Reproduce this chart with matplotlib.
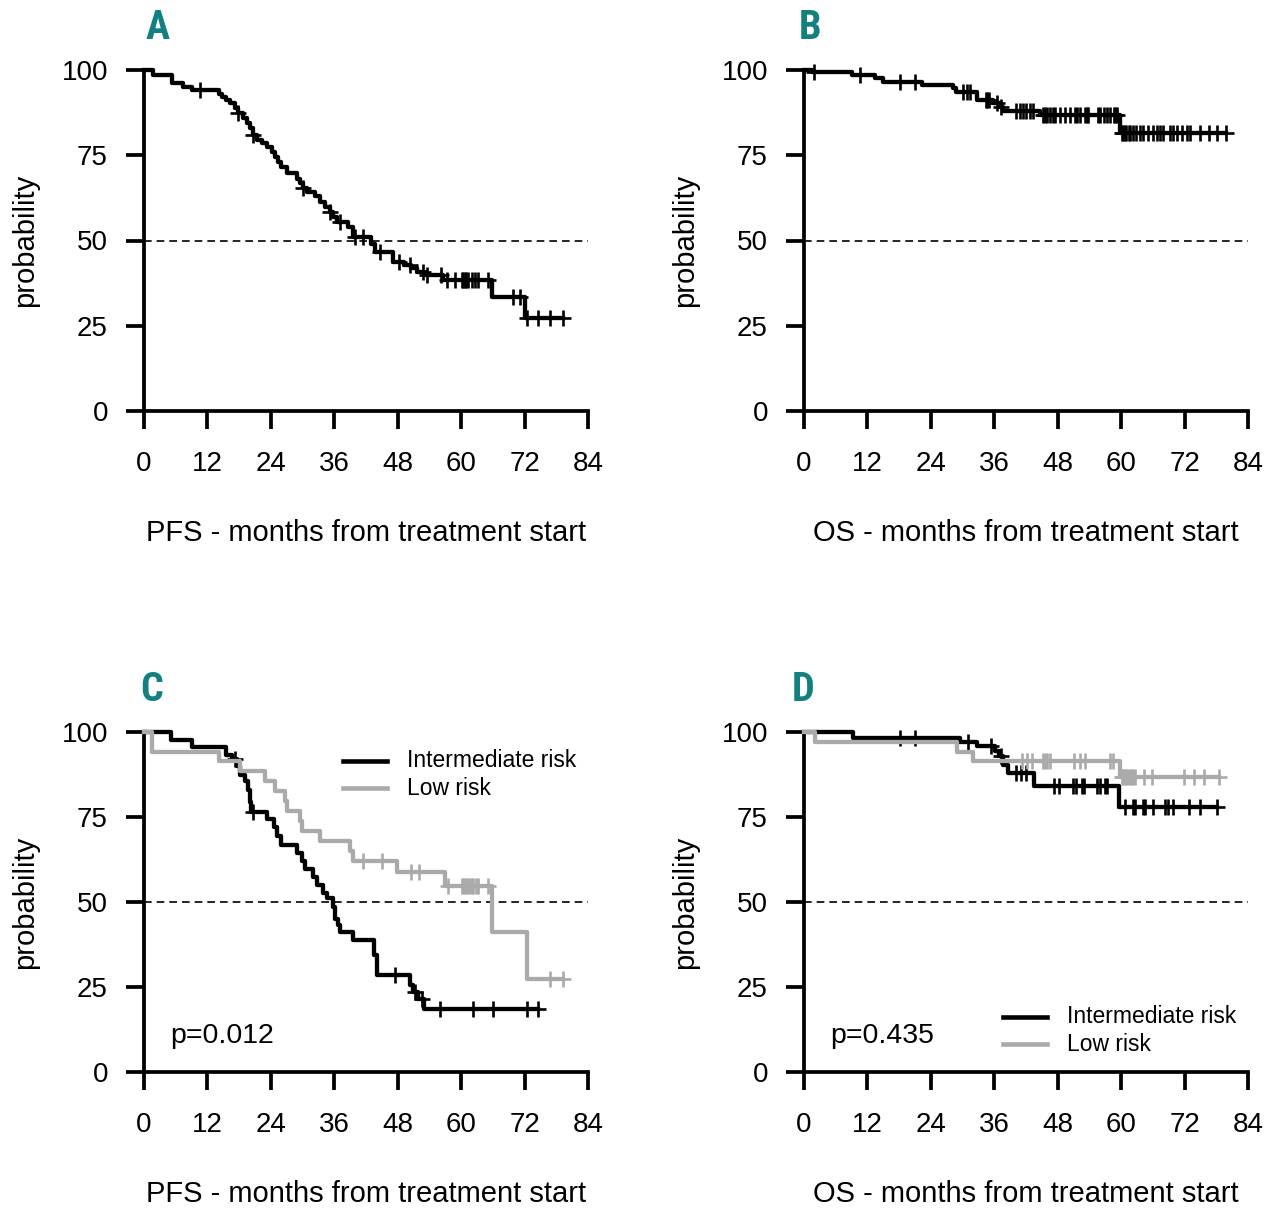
import numpy as np
import matplotlib
matplotlib.use("Agg")
import matplotlib.pyplot as plt
from matplotlib import font_manager

# ---------------- data (months, survival %) ----------------
xticks = [0, 12, 24, 36, 48, 60, 72, 84]
yticks = [0, 25, 50, 75, 100]

# Panel A: PFS all patients
A_event_t = [1.7, 5.3, 7.4, 9.1, 14.1, 14.7, 15.6, 16.3, 17.2, 17.8, 18.8, 19.4, 20.1, 20.7,
             21.3, 22.3, 23.2, 24.2, 24.8, 25.4, 26.0, 27.0, 28.9, 29.5, 30.1, 30.8, 32.4,
             33.3, 34.2, 35.2, 35.8, 36.5, 38.6, 39.6, 43.0, 43.7, 47.2, 49.1, 50.6, 51.6,
             53.2, 56.6, 65.8, 72.1]
A_event_s = [98.5, 96.3, 95.0, 94.0, 93.0, 92.2, 91.2, 90.2, 88.8, 87.4, 86.0, 84.6, 83.0, 81.0,
             79.5, 78.5, 77.5, 76.0, 74.6, 73.1, 71.6, 69.7, 68.0, 66.8, 65.3, 64.3, 63.0,
             61.4, 59.9, 58.4, 57.0, 55.5, 54.0, 51.1, 49.0, 46.7, 43.8, 42.8, 41.8, 40.9,
             39.9, 38.4, 33.5, 27.2]
A_cens_t = [10.6, 17.8, 20.7, 30.1, 35.2, 37.1, 39.9, 41.4, 44.7, 48.3, 50.4, 52.7, 53.6, 56.1,
            57.3, 58.8, 60.1, 60.4, 60.8, 61.0, 61.3, 62.0, 62.6, 63.2, 65.1, 69.9, 71.2,
            72.4, 74.6, 76.8, 79.3]

# Panel B: OS all patients
B_event_t = [1.6, 9.0, 13.4, 15.0, 22.3, 28.2, 28.8, 32.7, 35.8, 37.1, 37.7, 44.6, 59.8]
B_event_s = [99.4, 98.5, 97.6, 96.6, 95.6, 94.6, 93.6, 91.2, 90.2, 89.2, 88.1, 86.8, 81.4]
B_cens_t = [1.9, 10.6, 18.2, 21.0, 30.1, 30.8, 31.4, 34.4, 34.7, 35.0, 36.5, 37.3, 40.2, 40.8,
            41.4, 42.0, 42.7, 43.3, 45.3, 45.6, 45.9, 46.5, 47.2, 47.5, 48.4, 49.4, 50.3, 51.3,
            51.6, 52.2, 53.2, 53.5, 53.8, 55.7, 56.0, 56.7, 57.3, 57.9, 58.6, 58.9, 59.2, 60.1,
            60.4, 60.7, 61.0, 61.4, 61.7, 62.3, 62.9, 63.6, 64.2, 65.1, 66.1, 66.7, 67.4, 68.0,
            69.3, 69.9, 70.5, 71.5, 72.4, 73.1, 75.0, 76.6, 78.2, 79.8]

# Panel C: PFS by risk group
C_int_event_t = [5.2, 9.0, 15.6, 16.6, 17.5, 18.2, 19.1, 19.7, 20.0, 20.3, 23.2, 24.5, 25.1, 26.0,
                 28.9, 29.8, 30.5, 32.0, 32.7, 33.9, 34.6, 35.8, 36.1, 36.7, 37.1, 39.6, 43.6,
                 44.0, 50.3, 50.9, 51.9, 53.0]
C_int_event_s = [97.6, 95.5, 93.3, 92.0, 90.0, 87.5, 85.5, 83.0, 79.5, 76.5, 74.3, 72.0, 69.5, 66.8,
                 64.5, 62.2, 59.6, 57.3, 55.0, 52.6, 51.3, 48.6, 45.1, 43.1, 41.2, 38.7, 34.3,
                 28.4, 25.5, 23.5, 21.6, 18.6]
C_int_cens_t = [17.3, 20.6, 47.4, 51.2, 52.5, 56.0, 62.3, 66.1, 72.4, 74.6]

C_low_event_t = [1.5, 14.1, 18.2, 22.9, 24.8, 26.7, 27.0, 29.5, 29.8, 33.3, 39.0, 39.6, 47.8,
                 56.9, 65.8, 72.4]
C_low_event_s = [94.0, 91.6, 88.6, 85.6, 82.7, 79.8, 76.8, 73.9, 70.9, 68.0, 65.0, 62.1, 58.7,
                 54.8, 41.2, 27.5]
C_low_cens_t = [41.5, 45.0, 50.5, 52.1, 57.5, 60.1, 60.4, 60.8, 61.0, 61.3, 61.6, 62.0, 62.3,
                62.9, 63.2, 65.1, 76.8, 79.3]

# Panel D: OS by risk group
D_int_event_t = [9.3, 29.5, 32.7, 36.1, 36.9, 37.7, 38.6, 43.6, 59.5]
D_int_event_s = [98.2, 97.1, 95.9, 94.4, 93.0, 90.2, 87.8, 84.0, 78.0]
D_int_cens_t = [18.2, 21.0, 31.1, 35.4, 37.2, 40.2, 41.1, 42.0, 47.3, 48.2, 50.8, 51.4, 52.6, 52.9,
                55.4, 56.0, 57.0, 57.3, 60.7, 62.3, 62.6, 64.2, 64.5, 66.1, 68.3, 68.9, 69.9,
                72.8, 75.0, 78.1]

D_low_event_t = [2.1, 28.9, 32.0, 59.8]
D_low_event_s = [97.2, 94.2, 91.4, 86.9]
D_low_cens_t = [41.2, 42.2, 43.1, 45.3, 45.6, 45.9, 46.6, 51.0, 52.2, 53.2, 57.9, 58.5, 60.1,
                60.4, 60.7, 61.0, 61.3, 61.6, 62.0, 62.3, 62.6, 64.4, 65.9, 71.9, 73.8, 75.7,
                78.6]

panel_letters = ["A", "B", "C", "D"]
xlabels = ["PFS - months from treatment start", "OS - months from treatment start",
           "PFS - months from treatment start", "OS - months from treatment start"]
ylabel = "probability"
legend_labels = ["Intermediate risk", "Low risk"]
pvalues = ["p=0.012", "p=0.435"]

# ---------------- style ----------------
fonts = font_manager.fontManager.ttflist
names = {f.name for f in fonts}
base_font = "Liberation Sans" if "Liberation Sans" in names else "DejaVu Sans"

# find a condensed / narrow bold face for the panel letters
letter_font, letter_stretch = base_font, "normal"
for pref in ["Liberation Sans Narrow", "Roboto Condensed", "Open Sans Condensed", "DejaVu Sans"]:
    cands = [f for f in fonts if f.name == pref and
             (("Narrow" in pref or "Condensed" in pref) or
              (str(f.stretch) in ("condensed", "semi-condensed", "375", "500")))]
    if cands:
        letter_font = pref
        if pref == "DejaVu Sans":
            letter_stretch = "condensed"
        break

plt.rcParams["font.family"] = [base_font, "DejaVu Sans"]

BLACK = "#000000"
GRAY = "#aaaaaa"
TEAL = "#12807f"

W, H = 1280, 1228
fig = plt.figure(figsize=(W / 100, H / 100), dpi=100)


def px_axes(left, top, right, bottom):
    return fig.add_axes([left / W, 1 - bottom / H, (right - left) / W, (bottom - top) / H])


axA = px_axes(144, 70, 588, 411)
axB = px_axes(804, 70, 1248, 411)
axC = px_axes(144, 732, 588, 1072)
axD = px_axes(804, 732, 1248, 1072)
axes = [axA, axB, axC, axD]


def km(ax, ev_t, ev_s, cens_t, color):
    t = np.r_[0.0, ev_t]
    s = np.r_[100.0, ev_s]
    end = max(max(cens_t), max(ev_t))
    tt = np.r_[t, end]
    ss = np.r_[s, s[-1]]
    ax.step(tt, ss, where="post", color=color, lw=3.1, clip_on=False, zorder=3)
    idx = np.searchsorted(t, cens_t, side="right") - 1
    ax.plot(cens_t, s[idx], ls="none", marker="+", ms=12, mew=1.9, color=color,
            clip_on=False, zorder=3)


for i, ax in enumerate(axes):
    ax.set_xlim(0, 84)
    ax.set_ylim(0, 100)
    for sp in ["top", "right"]:
        ax.spines[sp].set_visible(False)
    for sp in ["left", "bottom"]:
        ax.spines[sp].set_linewidth(2.7)
    ax.set_xticks(xticks)
    ax.set_yticks(yticks)
    ax.tick_params(axis="both", direction="out", length=13, width=2.7, labelsize=20)
    ax.tick_params(axis="y", pad=13)
    ax.tick_params(axis="x", pad=16)
    ax.axhline(50, color=BLACK, lw=1.2, ls=(0, (4.6, 3.0)), zorder=1)
    ax.text(0.5, -0.358, xlabels[i], transform=ax.transAxes, ha="center", va="center",
            fontsize=21)
    ax.text((25 - 144) / 444, 0.5, ylabel, transform=ax.transAxes, rotation=90,
            ha="center", va="center", fontsize=21)
    lx = [(158 - 144) / 444, (810 - 804) / 444, (152 - 144) / 444, (803 - 804) / 444][i]
    ax.text(lx, 1.123, panel_letters[i], transform=ax.transAxes, ha="center", va="center",
            fontsize=29, fontweight="bold", color=TEAL, family=letter_font,
            fontstretch=letter_stretch)

km(axA, A_event_t, A_event_s, A_cens_t, BLACK)
km(axB, B_event_t, B_event_s, B_cens_t, BLACK)
km(axC, C_int_event_t, C_int_event_s, C_int_cens_t, BLACK)
km(axC, C_low_event_t, C_low_event_s, C_low_cens_t, GRAY)
km(axD, D_int_event_t, D_int_event_s, D_int_cens_t, BLACK)
km(axD, D_low_event_t, D_low_event_s, D_low_cens_t, GRAY)


def legend(ax, y1, y2):
    for yy, col, lab in [(y1, BLACK, legend_labels[0]), (y2, GRAY, legend_labels[1])]:
        ax.plot([37.6, 46.0], [yy, yy], color=col, lw=3.3, clip_on=False)
        ax.text(49.8, yy, lab, ha="left", va="center", fontsize=16.5)


legend(axC, 91.5, 83.5)
legend(axD, 16.2, 8.2)
axC.text(4.9, 10.6, pvalues[0], ha="left", va="center", fontsize=20.5)
axD.text(4.9, 10.6, pvalues[1], ha="left", va="center", fontsize=20.5)

fig.savefig("out.png", dpi=100)
